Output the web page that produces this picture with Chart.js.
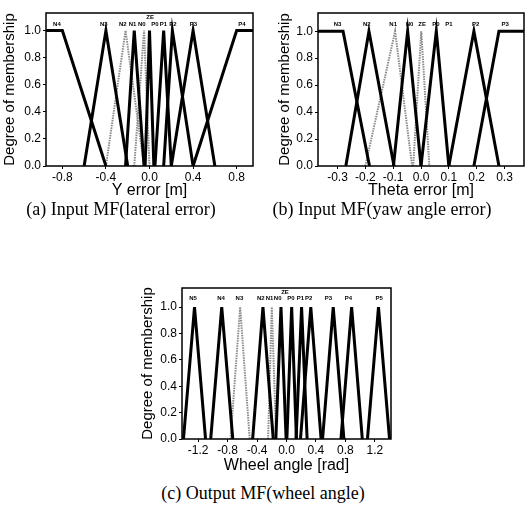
<!DOCTYPE html>
<html>
<head>
<meta charset="utf-8">
<script src="https://cdn.jsdelivr.net/npm/chart.js@4.4.1/dist/chart.umd.min.js"></script>
<style>
body { margin:0; background:#fff; width:529px; height:523px; position:relative; overflow:hidden; }
canvas { position:absolute; }
.cap { position:absolute; font-family:"Liberation Serif","Times New Roman",serif; font-size:18px; color:#000; white-space:nowrap; transform:translate(-50%,-50%); }
</style>
</head>
<body>
<canvas id="chart-a" width="264" height="200" style="left:0;top:0"></canvas>
<canvas id="chart-b" width="265" height="200" style="left:264px;top:0"></canvas>
<canvas id="chart-c" width="270" height="200" style="left:130px;top:275px"></canvas>
<div class="cap" style="left:121px;top:209px">(a) Input MF(lateral error)</div>
<div class="cap" style="left:382px;top:209px">(b) Input MF(yaw angle error)</div>
<div class="cap" style="left:263px;top:493px">(c) Output MF(wheel angle)</div>
<script>
// (a) lateral error
var namesA = ['N4','N3','N2','N1','N0','ZE','P0','P1','P2','P3','P4'];
var labelPosA = [-0.85,-0.42,-0.245,-0.156,-0.07,0.006,0.05,0.128,0.214,0.403,0.848];
var shapesA = {
    N4: [[-0.95,1],[-0.8,1],[-0.4,0]],
    N3: [[-0.6,0],[-0.4,1],[-0.2,0]],
    N2: [[-0.4,0],[-0.22,1],[-0.05,0]],
    N1: [[-0.22,0],[-0.14,1],[-0.05,0]],
    N0: [[-0.14,0],[-0.05,1],[0,0]],
    ZE: [[-0.04,0],[0,1],[0.04,0]],
    P1: [[0.05,0],[0.13,1],[0.2,0]],
    P2: [[0.13,0],[0.21,1],[0.4,0]],
    P3: [[0.2,0],[0.4,1],[0.6,0]],
    P4: [[0.4,0],[0.8,1],[0.95,1]]
};
var dottedA = ['N2','N0'];
var xTicksA = [-0.8,-0.4,0,0.4,0.8];

// (b) yaw angle error
var namesB = ['N3','N2','N1','N0','ZE','P0','P1','P2','P3'];
var labelPosB = [-0.30,-0.195,-0.10,-0.041,0.004,0.054,0.1,0.196,0.302];
var shapesB = {
    N3: [[-0.37,1],[-0.28,1],[-0.185,0]],
    N2: [[-0.27,0],[-0.187,1],[-0.097,0]],
    N1: [[-0.2,0],[-0.093,1],[-0.032,0]],
    N0: [[-0.099,0],[-0.048,1],[0,0]],
    ZE: [[-0.028,0],[0.001,1],[0.03,0]],
    P0: [[0,0],[0.055,1],[0.1,0]],
    P2: [[0.1,0],[0.19,1],[0.28,0]],
    P3: [[0.19,0],[0.28,1],[0.37,1]]
};
var dottedB = ['N1','ZE'];
var xTicksB = [-0.3,-0.2,-0.1,0,0.1,0.2,0.3];

// (c) wheel angle
var namesC = ['N5','N4','N3','N2','N1','N0','ZE','P0','P1','P2','P3','P4','P5'];
var labelPosC = [-1.27,-0.89,-0.64,-0.35,-0.23,-0.12,-0.02,0.06,0.19,0.30,0.57,0.84,1.26];
var shapesC = {
    N5: [[-1.4,0],[-1.25,1],[-1.1,0]],
    N4: [[-1.03,0],[-0.88,1],[-0.73,0]],
    N3: [[-0.76,0],[-0.63,1],[-0.5,0]],
    N2: [[-0.46,0],[-0.32,1],[-0.18,0]],
    N1: [[-0.25,0],[-0.2,1],[-0.14,0]],
    N0: [[-0.145,0],[-0.075,1],[-0.005,0]],
    P0: [[0.005,0],[0.07,1],[0.135,0]],
    P1: [[0.13,0],[0.205,1],[0.28,0]],
    P2: [[0.19,0],[0.33,1],[0.47,0]],
    P3: [[0.49,0],[0.635,1],[0.78,0]],
    P4: [[0.74,0],[0.885,1],[1.03,0]],
    P5: [[1.1,0],[1.25,1],[1.4,0]]
};
var dottedC = ['N3','N1'];
var xTicksC = [-1.2,-0.8,-0.4,0,0.4,0.8,1.2];

var yTicks = [0,0.2,0.4,0.6,0.8,1.0];
var FONT = '"Liberation Sans", Arial, sans-serif';

function makeChart(id, o) {
    var datasets = [];
    Object.keys(o.shapes).forEach(function(n) {
        var dotted = o.dotted.indexOf(n) >= 0;
        datasets.push({
            label: n,
            data: o.shapes[n].map(function(p) { return {x: p[0], y: p[1]}; }),
            borderColor: dotted ? '#8a8a8a' : '#000',
            borderWidth: dotted ? 2 : 3,
            borderDash: dotted ? [1.5, 1] : [],
            pointRadius: 0,
            tension: 0,
            fill: false,
            order: dotted ? 1 : 0
        });
    });

    var labelPlugin = {
        id: 'mfLabels',
        afterDatasetsDraw: function(chart) {
            var ctx = chart.ctx, xs = chart.scales.x, ys = chart.scales.y;
            ctx.save();
            ctx.font = 'bold 6px ' + FONT;
            ctx.fillStyle = '#000';
            ctx.textAlign = 'center';
            ctx.textBaseline = 'middle';
            o.names.forEach(function(n, i) {
                var yv = o.raised.indexOf(n) >= 0 ? o.yHigh : o.yLow;
                ctx.fillText(n, xs.getPixelForValue(o.labelPos[i]), ys.getPixelForValue(yv));
            });
            var a = chart.chartArea;
            ctx.lineWidth = 1.5;
            ctx.strokeStyle = '#000';
            ctx.strokeRect(a.left, a.top, a.right - a.left, a.bottom - a.top);
            ctx.restore();
        }
    };

    return new Chart(document.getElementById(id).getContext('2d'), {
        type: 'line',
        data: {datasets: datasets},
        options: {
            responsive: false,
            animation: false,
            layout: {padding: {top: o.top, right: o.right, left: 0, bottom: 0}},
            plugins: {legend: {display: false}, tooltip: {enabled: false}},
            scales: {
                x: {
                    type: 'linear', min: o.xMin, max: o.xMax,
                    afterBuildTicks: function(s) { s.ticks = o.xTicks.map(function(v) { return {value: v}; }); },
                    afterFit: function(s) { s.height = o.xh; },
                    ticks: {font: {size: 12, family: FONT}, color: '#000', padding: 1, maxRotation: 0, autoSkip: false,
                        callback: function(v) { return v.toFixed(1); }},
                    grid: {drawOnChartArea: false, tickLength: 3, color: '#000'},
                    border: {display: false},
                    title: {display: true, text: o.xTitle, color: '#000', font: {size: 16, family: FONT}, padding: {top: 0, bottom: o.xTitlePad}}
                },
                y: {
                    type: 'linear', min: 0, max: o.yMax,
                    afterBuildTicks: function(s) { s.ticks = yTicks.map(function(v) { return {value: v}; }); },
                    afterFit: function(s) { s.width = o.yw; },
                    ticks: {font: {size: 12, family: FONT}, color: '#000', padding: 2,
                        callback: function(v) { return v.toFixed(1); }},
                    grid: {drawOnChartArea: false, tickLength: 3, color: '#000'},
                    border: {display: false},
                    title: {display: true, text: 'Degree of membership', color: '#000', font: {size: 15, family: FONT}, padding: {top: o.yTitlePad, bottom: 0}}
                }
            }
        },
        plugins: [labelPlugin]
    });
}

window.onload = function() {
    window.chartA = makeChart('chart-a', {
        names: namesA, labelPos: labelPosA, shapes: shapesA, dotted: dottedA, raised: ['ZE'],
        xMin: -0.95, xMax: 0.95, xTicks: xTicksA, yMax: 1.13, yLow: 1.046, yHigh: 1.1,
        xTitle: 'Y error [m]', yw: 46, xh: 34, top: 13, right: 11, yTitlePad: 1, xTitlePad: 0
    });
    window.chartB = makeChart('chart-b', {
        names: namesB, labelPos: labelPosB, shapes: shapesB, dotted: dottedB, raised: [],
        xMin: -0.37, xMax: 0.37, xTicks: xTicksB, yMax: 1.135, yLow: 1.05, yHigh: 1.05,
        xTitle: 'Theta error [m]', yw: 54, xh: 34, top: 13, right: 5, yTitlePad: 12, xTitlePad: 0
    });
    window.chartC = makeChart('chart-c', {
        names: namesC, labelPos: labelPosC, shapes: shapesC, dotted: dottedC, raised: ['ZE'],
        xMin: -1.42, xMax: 1.42, xTicks: xTicksC, yMax: 1.145, yLow: 1.07, yHigh: 1.11,
        xTitle: 'Wheel angle [rad]', yw: 52, xh: 36, top: 13, right: 9, yTitlePad: 9, xTitlePad: 0
    });
};
</script>
</body>
</html>
